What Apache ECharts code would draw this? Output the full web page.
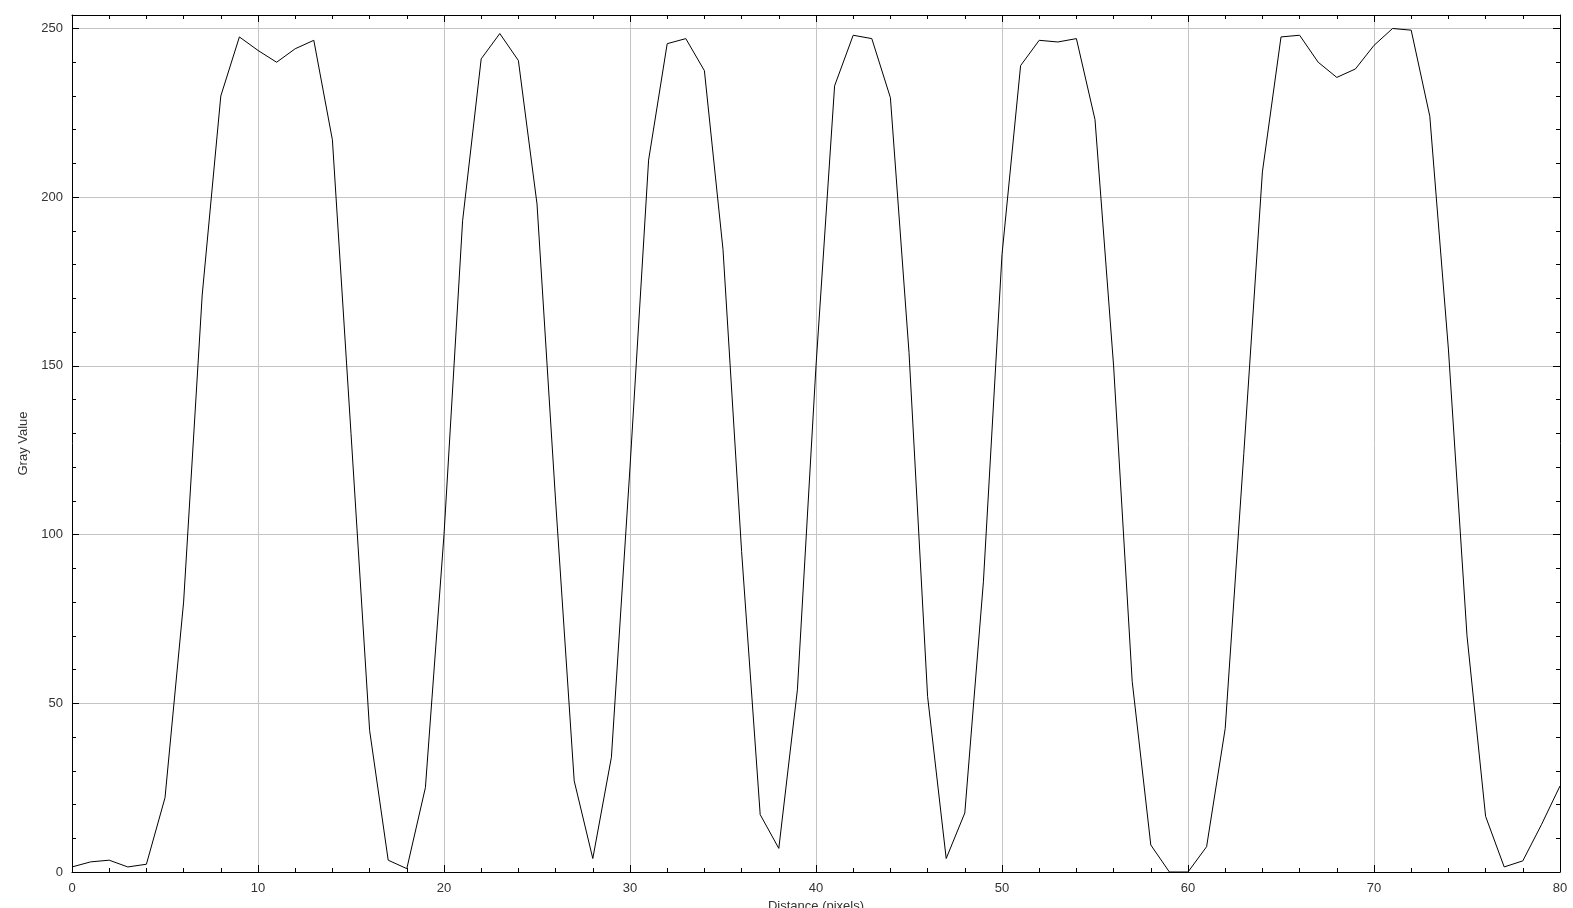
<!DOCTYPE html>
<html>
<head>
    <meta charset="UTF-8">
    <title>Gray Value Profile</title>
    <style>
        body {
            padding: 0;
            margin: 0;
            background-color: #FFFFFF;
            overflow: hidden;
        }
        #main_chart {
            width: 1573px;
            height: 908px;
        }
    </style>
</head>
<body>
<div id="main_chart"></div>
<script type="text/javascript" src="https://cdn.jsdelivr.net/npm/echarts@6/dist/echarts.min.js"></script>
<script type="text/javascript">
// distance along the line (pixels) and measured gray value
var distance = [];
for (var i = 0; i <= 80; i++) distance.push(i);

var grayValue = [
    1.5, 3, 3.5, 1.5, 2.3, 22, 80, 171, 230, 247.5,
    243.5, 240, 244, 246.5, 217, 130, 42, 3.5, 1, 25,
    100, 193, 241, 248.5, 240.5, 198, 110, 27, 4, 34,
    120, 211, 245.5, 247, 237.5, 184.5, 95, 17, 7, 54,
    150, 233, 248, 247, 229.5, 154, 52, 4, 17.5, 86,
    183, 239, 246.5, 246, 247, 223, 150, 56.5, 8, 0,
    0, 7.5, 42.5, 124, 207.5, 247.5, 248, 240, 235.5, 238,
    245, 250, 249.5, 224, 155, 70, 16.5, 1.5, 3.3, 14,
    25.5
];

var points = distance.map(function (d, i) { return [d, grayValue[i]]; });

var dom = document.getElementById('main_chart');

var labelFont = { fontFamily: 'Liberation Sans, Arial, sans-serif', fontSize: 13, color: '#333' };
// onZero off so the top / right frame axes stay on the frame
var axisLine = { show: true, onZero: false, lineStyle: { color: '#000', width: 1 } };
var tickIn = { show: true, inside: true, length: 7, lineStyle: { color: '#000' } };
var minorIn = { show: true, splitNumber: 5, length: 4, lineStyle: { color: '#000' } };
var grid = { show: true, lineStyle: { color: '#c4c4c4', width: 1 } };

var option = {
    animation: false,
    backgroundColor: '#fff',
    grid: { left: 72, right: 13, top: 15, bottom: 36, containLabel: false, outerBoundsMode: 'none' },
    xAxis: [
        {
            type: 'value', min: 0, max: 80, interval: 10, position: 'bottom',
            name: 'Distance (pixels)', nameLocation: 'middle', nameGap: 27,
            nameTextStyle: labelFont,
            axisLine: axisLine, axisTick: tickIn,
            minorTick: Object.assign({}, minorIn),
            axisLabel: Object.assign({ margin: 10 }, labelFont),
            splitLine: grid
        },
        {
            type: 'value', min: 0, max: 80, interval: 10, position: 'top',
            axisLine: axisLine, axisTick: tickIn,
            minorTick: Object.assign({}, minorIn),
            axisLabel: { show: false },
            splitLine: { show: false }
        }
    ],
    yAxis: [
        {
            type: 'value', min: 0, max: 254, interval: 50, position: 'left',
            name: 'Gray Value', nameLocation: 'middle', nameGap: 30,
            nameTextStyle: labelFont,
            axisLine: axisLine, axisTick: tickIn,
            minorTick: Object.assign({}, minorIn),
            axisLabel: Object.assign({ margin: 9, showMaxLabel: false }, labelFont),
            splitLine: grid
        },
        {
            type: 'value', min: 0, max: 254, interval: 50, position: 'right',
            axisLine: axisLine, axisTick: tickIn,
            minorTick: Object.assign({}, minorIn),
            axisLabel: { show: false },
            splitLine: { show: false }
        }
    ],
    series: [
        {
            type: 'line',
            data: points,
            xAxisIndex: 0,
            yAxisIndex: 0,
            showSymbol: false,
            symbol: 'none',
            lineStyle: { color: '#000', width: 1 },
            clip: true
        }
    ]
};

var chart = echarts.init(dom);
chart.setOption(option);
</script>
</body>
</html>
